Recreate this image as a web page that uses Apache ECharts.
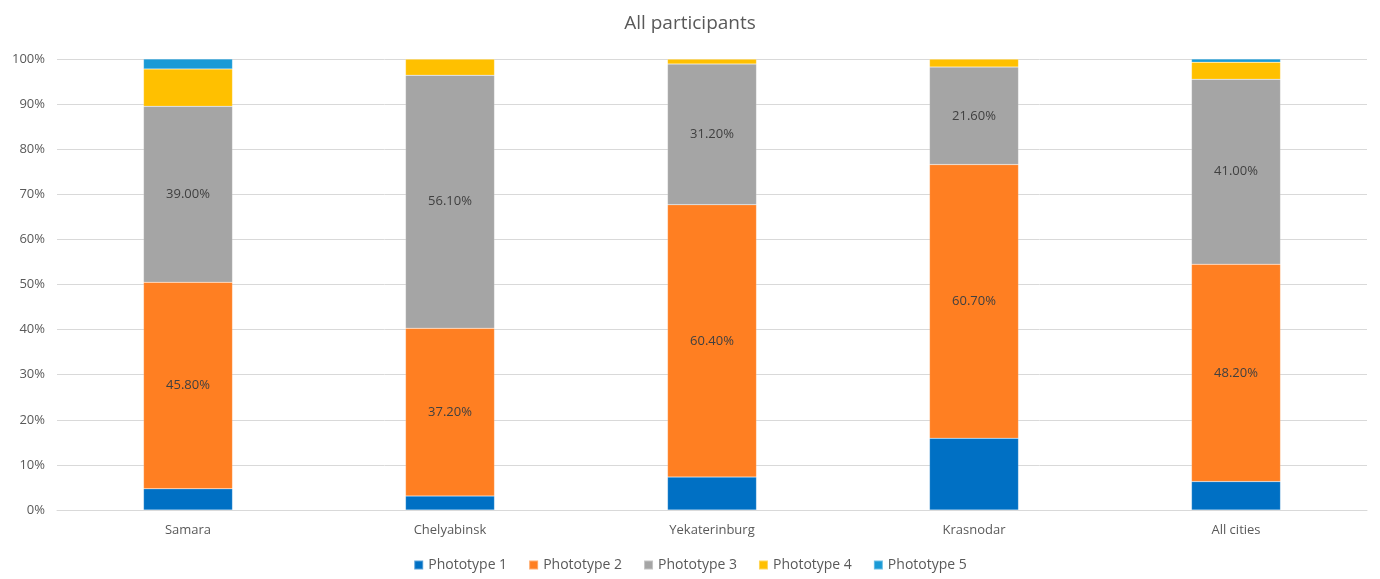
<!DOCTYPE html>
<html>
<head>
<meta charset="utf-8">
<script src="https://cdn.jsdelivr.net/npm/echarts@6/dist/echarts.min.js"></script>
<style>
  html, body { margin: 0; padding: 0; background: #fff; }
  #chart { width: 1380px; height: 579px; }
</style>
</head>
<body>
<div id="chart"></div>
<script>
// Skin phototype shares by city (percent of participants)
const cities = ['Samara', 'Chelyabinsk', 'Yekaterinburg', 'Krasnodar', 'All cities'];
const phototype1 = [4.7, 3.1, 7.3, 15.9, 6.3];
const phototype2 = [45.8, 37.2, 60.4, 60.7, 48.2];
const phototype3 = [39.0, 56.1, 31.2, 21.6, 41.0];
const phototype4 = [8.3, 3.6, 1.1, 1.8, 3.8];
const phototype5 = [2.2, 0, 0, 0, 0.7];
const yTicks = [0, 10, 20, 30, 40, 50, 60, 70, 80, 90, 100];

const seriesDefs = [
  { name: 'Phototype 1', data: phototype1, color: '#0070C4', label: false },
  { name: 'Phototype 2', data: phototype2, color: '#FF7F22', label: true },
  { name: 'Phototype 3', data: phototype3, color: '#A5A5A5', label: true },
  { name: 'Phototype 4', data: phototype4, color: '#FFC000', label: false },
  { name: 'Phototype 5', data: phototype5, color: '#1A9AD6', label: false }
];

const font = '"Open Sans", "Noto Sans", sans-serif';
const chart = echarts.init(document.getElementById('chart'));

chart.setOption({
  animation: false,
  textStyle: { fontFamily: font },
  title: {
    text: 'All participants',
    left: 'center',
    top: 9,
    textStyle: { fontFamily: font, fontSize: 19, fontWeight: 'normal', color: '#595959' }
  },
  legend: {
    bottom: 2,
    left: 'center',
    itemWidth: 9,
    itemHeight: 9,
    itemGap: 21,
    icon: 'rect',
    textStyle: { fontFamily: font, fontSize: 14, color: '#595959' },
    data: seriesDefs.map(s => s.name)
  },
  grid: { left: 57, right: 13, top: 59, bottom: 69, containLabel: false },
  xAxis: {
    type: 'category',
    data: cities,
    axisTick: { show: false },
    axisLine: { lineStyle: { color: '#D9D9D9' } },
    axisLabel: { fontFamily: font, fontSize: 13, color: '#595959', margin: 14 }
  },
  yAxis: {
    type: 'value',
    min: 0,
    max: 100,
    interval: 10,
    axisLine: { show: false },
    axisTick: { show: false },
    splitLine: { lineStyle: { color: '#D9D9D9' } },
    axisLabel: {
      fontFamily: font, fontSize: 13, color: '#595959', margin: 12,
      formatter: v => yTicks.includes(v) ? v + '%' : ''
    }
  },
  series: seriesDefs.map(s => ({
    name: s.name,
    type: 'bar',
    stack: 'total',
    barWidth: 89,
    data: s.data,
    itemStyle: { color: s.color, borderColor: 'rgba(255,255,255,0.35)', borderWidth: 0.5 },
    label: {
      show: s.label,
      position: 'inside',
      fontFamily: font,
      fontSize: 13,
      color: '#404040',
      formatter: p => p.value.toFixed(2) + '%'
    }
  }))
});
</script>
</body>
</html>
